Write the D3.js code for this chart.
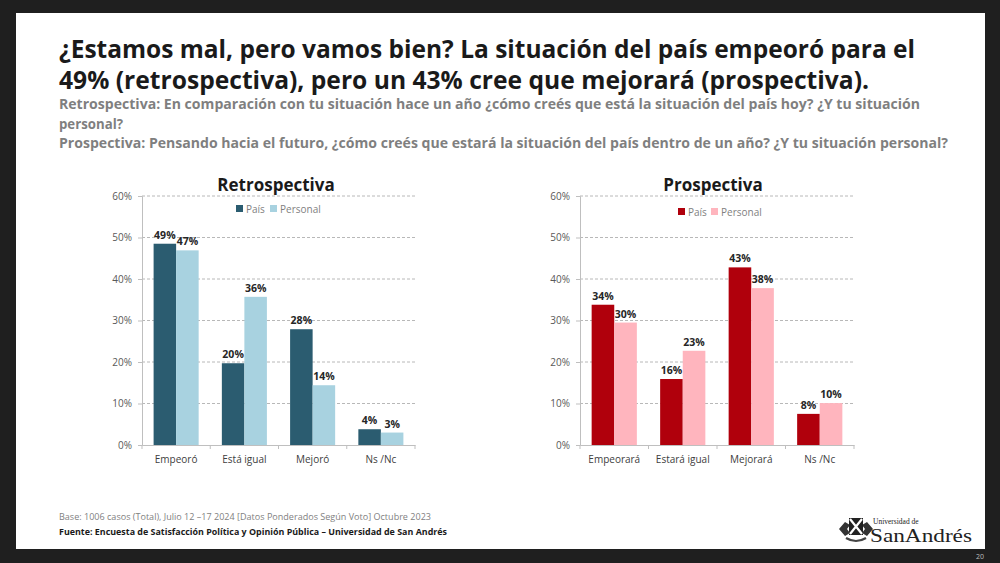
<!DOCTYPE html>
<meta charset="utf-8">
<script src="https://d3js.org/d3.v7.min.js"></script>
<style>
  body { margin: 0; background: #1f1f1f; }
  svg { display: block; font-family: "Open Sans", "Noto Sans", sans-serif; }
</style>
<div id="slide"></div>
<script>
  // ---- data ----
  var retroCategories = ['Empeoró', 'Está igual', 'Mejoró', 'Ns /Nc'];
  var retroPais = [48.5, 19.7, 27.9, 3.8];
  var retroPersonal = [46.9, 35.7, 14.4, 3.0];

  var prospCategories = ['Empeorará', 'Estará igual', 'Mejorará', 'Ns /Nc'];
  var prospPais = [33.8, 15.9, 42.8, 7.5];
  var prospPersonal = [29.5, 22.7, 37.8, 10.1];

  var seriesNames = ['País', 'Personal'];
  var yTicks = [0, 10, 20, 30, 40, 50, 60];

  var W = 1000, H = 563;

  var svg = d3.select('#slide').append('svg')
    .attr('width', W)
    .attr('height', H);

  // dark frame + white slide
  svg.append('rect').attr('width', W).attr('height', H).attr('fill', '#1f1f1f');
  svg.append('rect').attr('x', 16).attr('y', 13).attr('width', 969).attr('height', 536).attr('fill', '#ffffff');

  // ---- header texts ----
  function fitText(txt, x, y, size, weight, color, len) {
    svg.append('text')
      .attr('x', x).attr('y', y)
      .attr('font-size', size)
      .attr('font-weight', weight)
      .attr('fill', color)
      .attr('textLength', len)
      .attr('lengthAdjust', 'spacingAndGlyphs')
      .text(txt);
  }
  fitText('¿Estamos mal, pero vamos bien? La situación del país empeoró para el', 59, 58, 25, 700, '#1a1a1a', 856);
  fitText('49% (retrospectiva), pero un 43% cree que mejorará (prospectiva).', 59, 89, 25, 700, '#1a1a1a', 810);
  fitText('Retrospectiva: En comparación con tu situación hace un año ¿cómo creés que está la situación del país hoy? ¿Y tu situación', 59, 109, 14.5, 700, '#7f7f7f', 861);
  fitText('personal?', 59, 129, 14.5, 700, '#7f7f7f', 64);
  fitText('Prospectiva: Pensando hacia el futuro, ¿cómo creés que estará la situación del país dentro de un año? ¿Y tu situación personal?', 59, 148, 14.5, 700, '#7f7f7f', 889);

  // ---- chart builder ----
  function drawChart(opts) {
    var g = svg.append('g');
    var y = d3.scaleLinear().domain([0, 60]).range([445, 196]);
    var x = d3.scaleBand().domain(opts.categories).range([opts.left, opts.right])
      .paddingInner(0.34).paddingOuter(0.17);
    var x1 = d3.scaleBand().domain(seriesNames).range([0, x.bandwidth()]);
    var color = d3.scaleOrdinal().domain(seriesNames).range(opts.colors);

    // gridlines
    g.selectAll('.grid').data(yTicks.filter(function(d){ return d > 0; }))
      .enter().append('line')
      .attr('x1', opts.left).attr('x2', opts.right)
      .attr('y1', function(d){ return y(d); }).attr('y2', function(d){ return y(d); })
      .attr('stroke', '#a6a6a6').attr('stroke-width', 0.8)
      .attr('stroke-dasharray', '3,2');

    // y axis
    var yAxis = g.append('g')
      .attr('transform', 'translate(' + opts.left + ',0)')
      .call(d3.axisLeft(y).tickValues(yTicks).tickSize(4).tickPadding(6)
        .tickFormat(function(d){ return d + '%'; }));
    yAxis.select('.domain').attr('stroke', '#bfbfbf');
    yAxis.selectAll('.tick line').attr('stroke', '#bfbfbf');
    yAxis.selectAll('.tick text').attr('fill', '#595959').attr('font-size', 10)
      .attr('font-family', '"Open Sans", sans-serif');

    // bars
    var rows = opts.categories.map(function(c, i) {
      return { cat: c, vals: [opts.pais[i], opts.personal[i]] };
    });
    var grp = g.selectAll('.cat').data(rows).enter().append('g')
      .attr('transform', function(d){ return 'translate(' + x(d.cat) + ',0)'; });
    grp.selectAll('rect').data(function(d){
        return seriesNames.map(function(s, j){ return { s: s, v: d.vals[j] }; });
      })
      .enter().append('rect')
      .attr('x', function(d){ return x1(d.s); })
      .attr('y', function(d){ return y(d.v); })
      .attr('width', x1.bandwidth())
      .attr('height', function(d){ return y(0) - y(d.v); })
      .attr('fill', function(d){ return color(d.s); });
    grp.selectAll('.lbl').data(function(d){
        return seriesNames.map(function(s, j){ return { s: s, v: d.vals[j] }; });
      })
      .enter().append('text')
      .attr('x', function(d){ return x1(d.s) + x1.bandwidth() / 2; })
      .attr('y', function(d){ return y(d.v) - 5; })
      .attr('text-anchor', 'middle')
      .attr('font-size', 10.5).attr('font-weight', 700).attr('fill', '#262626')
      .text(function(d){ return Math.round(d.v) + '%'; });

    // x axis
    var xAxis = g.append('g')
      .attr('transform', 'translate(0,' + y(0) + ')')
      .call(d3.axisBottom(x).tickSize(0).tickPadding(11));
    xAxis.select('.domain').attr('stroke', '#bfbfbf');
    xAxis.selectAll('.tick text').attr('fill', '#404040').attr('font-size', 10)
      .attr('font-family', '"Open Sans", sans-serif');
    var step = (opts.right - opts.left) / opts.categories.length;
    g.selectAll('.xt').data(d3.range(opts.categories.length + 1)).enter().append('line')
      .attr('x1', function(i){ return opts.left + i * step; })
      .attr('x2', function(i){ return opts.left + i * step; })
      .attr('y1', y(0)).attr('y2', y(0) + 4)
      .attr('stroke', '#bfbfbf');

    // title
    g.append('text')
      .attr('x', opts.titleX).attr('y', 191)
      .attr('text-anchor', 'middle')
      .attr('font-size', 17).attr('font-weight', 700).attr('fill', '#1a1a1a')
      .text(opts.title);

    // legend
    var leg = g.selectAll('.leg').data(seriesNames).enter().append('g')
      .attr('transform', function(d, i){ return 'translate(' + opts.legendX[i] + ',' + opts.legendY + ')'; });
    leg.append('rect').attr('x', 0).attr('y', -4).attr('width', 7).attr('height', 7)
      .attr('fill', function(d){ return color(d); });
    leg.append('text').attr('x', 10).attr('y', 3.5)
      .attr('font-size', 10).attr('fill', '#7f7f7f')
      .text(function(d){ return d; });
  }

  drawChart({
    categories: retroCategories, pais: retroPais, personal: retroPersonal,
    left: 142, right: 415, colors: ['#2b5c70', '#a8d2e0'],
    title: 'Retrospectiva', titleX: 276, legendX: [236, 270], legendY: 209
  });
  drawChart({
    categories: prospCategories, pais: prospPais, personal: prospPersonal,
    left: 580, right: 854, colors: ['#b0000c', '#ffb5be'],
    title: 'Prospectiva', titleX: 713, legendX: [678, 711], legendY: 212
  });

  // ---- footer ----
  fitText('Base: 1006 casos (Total), Julio 12 –17 2024 [Datos Ponderados Según Voto] Octubre 2023', 59, 520, 9, 400, '#7f7f7f', 372);
  fitText('Fuente: Encuesta de Satisfacción Política y Opinión Pública – Universidad de San Andrés', 59, 535, 9, 700, '#1a1a1a', 388);

  // ---- logo (simplified crest) ----
  var logo = svg.append('g').attr('transform', 'translate(838,515)');
  // leaves
  logo.append('path').attr('d', 'M1,14 L7,7 L12,10 L9,14 L12,18 L7,21 Z').attr('fill', '#333');
  logo.append('path').attr('d', 'M35,14 L29,7 L24,10 L27,14 L24,18 L29,21 Z').attr('fill', '#333');
  // shield with X
  logo.append('rect').attr('x', 11).attr('y', 3).attr('width', 14).attr('height', 17).attr('fill', '#222');
  logo.append('path').attr('d', 'M12,4 L24,19 M24,4 L12,19').attr('stroke', '#fff').attr('stroke-width', 2.2);
  // banner
  logo.append('path').attr('d', 'M8,23 Q18,29 28,23').attr('stroke', '#444').attr('stroke-width', 2.2).attr('fill', 'none');
  logo.append('text').attr('x', 35).attr('y', 9)
    .attr('font-family', '"Liberation Serif", "DejaVu Serif", serif')
    .attr('font-size', 7.5).attr('fill', '#222').text('Universidad de');
  logo.append('text').attr('x', 32).attr('y', 27)
    .attr('font-family', '"Liberation Serif", "DejaVu Serif", serif')
    .attr('font-size', 19).attr('fill', '#222')
    .attr('textLength', 102).attr('lengthAdjust', 'spacingAndGlyphs')
    .text('SanAndrés');

  // page number
  svg.append('text').attr('x', 984).attr('y', 559).attr('text-anchor', 'end')
    .attr('font-size', 7).attr('fill', '#bdbdbd').text('20');
</script>
